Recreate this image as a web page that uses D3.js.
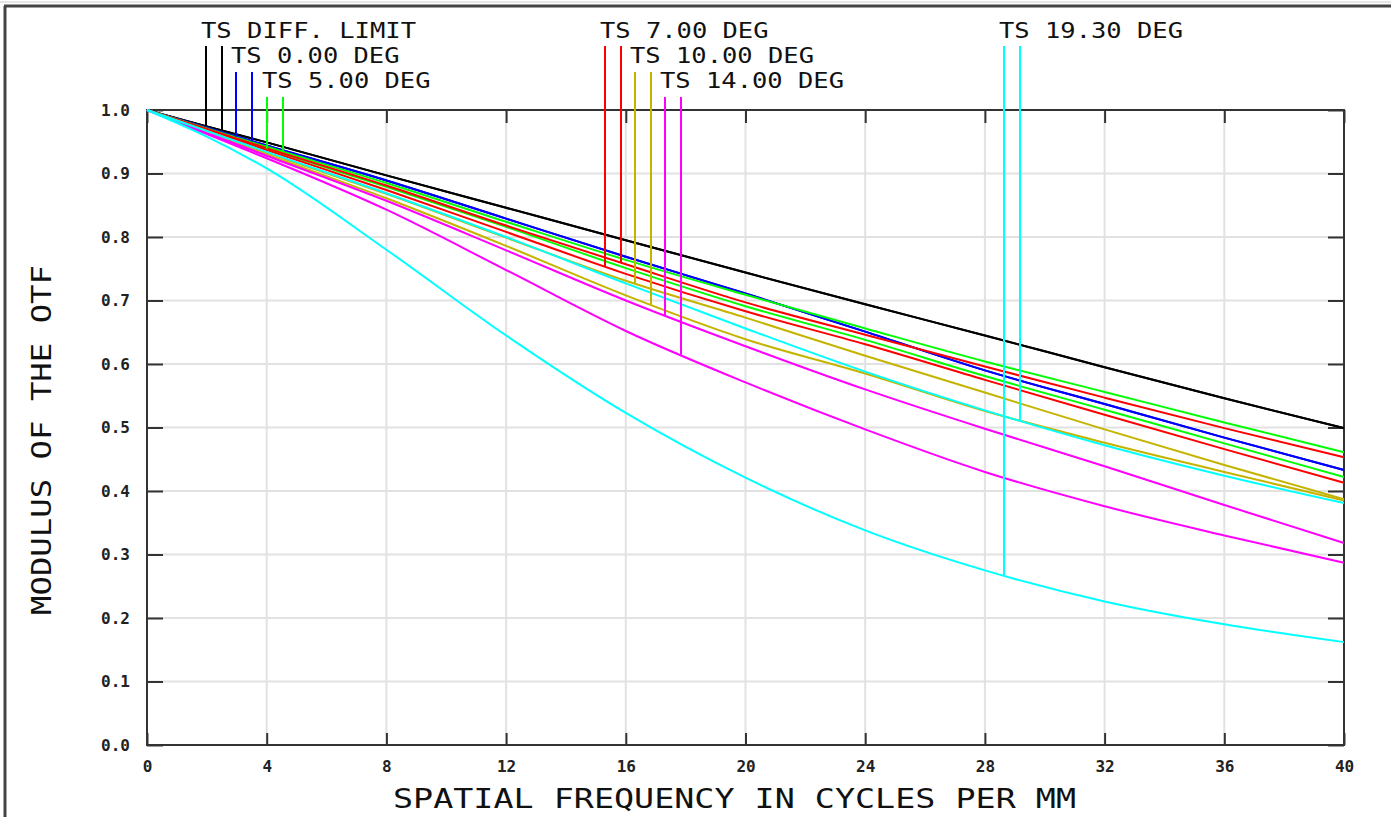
<!DOCTYPE html>
<html>
<head>
<meta charset="utf-8">
<script src="https://cdn.jsdelivr.net/npm/d3@7"></script>
<style>
  body { margin: 0; background: #fff; }
  text { font-family: "DejaVu Sans Mono", monospace; }
</style>
</head>
<body>
<div id="chart"></div>
<script>
// MTF data (modulus vs spatial frequency, cycles/mm)
const freqs = [0, 2, 4, 8, 12, 16, 20, 24, 28, 32, 36, 40];

const diffLimit = [1.000, 0.974, 0.949, 0.897, 0.846, 0.795, 0.744, 0.694, 0.645, 0.595, 0.546, 0.499];
const ts0 = [1.000, 0.972, 0.944, 0.889, 0.829, 0.769, 0.711, 0.651, 0.590, 0.537, 0.484, 0.433];
const t5 = [1.000, 0.970, 0.939, 0.879, 0.816, 0.751, 0.691, 0.638, 0.581, 0.528, 0.475, 0.422];
const s5 = [1.000, 0.971, 0.942, 0.885, 0.824, 0.764, 0.709, 0.656, 0.604, 0.556, 0.508, 0.461];
const t7 = [1.000, 0.969, 0.937, 0.874, 0.808, 0.742, 0.683, 0.631, 0.575, 0.520, 0.466, 0.413];
const s7 = [1.000, 0.970, 0.940, 0.881, 0.818, 0.757, 0.697, 0.646, 0.596, 0.547, 0.499, 0.453];
const t10 = [1.000, 0.967, 0.933, 0.868, 0.799, 0.731, 0.673, 0.613, 0.555, 0.497, 0.441, 0.387];
const s10 = [1.000, 0.965, 0.930, 0.861, 0.786, 0.708, 0.639, 0.585, 0.526, 0.476, 0.430, 0.385];
const t14 = [1.000, 0.964, 0.928, 0.857, 0.779, 0.700, 0.628, 0.560, 0.498, 0.439, 0.378, 0.318];
const s14 = [1.000, 0.962, 0.924, 0.843, 0.748, 0.652, 0.571, 0.497, 0.430, 0.376, 0.330, 0.287];
const t19 = [1.000, 0.958, 0.908, 0.780, 0.645, 0.523, 0.421, 0.338, 0.275, 0.226, 0.190, 0.162];
const s19 = [1.000, 0.967, 0.934, 0.869, 0.800, 0.727, 0.656, 0.588, 0.527, 0.472, 0.424, 0.381];

const fieldLabels = ["TS DIFF. LIMIT", "TS 0.00 DEG", "TS 5.00 DEG", "TS 7.00 DEG",
                     "TS 10.00 DEG", "TS 14.00 DEG", "TS 19.30 DEG"];
const xTicks = [0, 4, 8, 12, 16, 20, 24, 28, 32, 36, 40];
const yTicks = [0, 0.1, 0.2, 0.3, 0.4, 0.5, 0.6, 0.7, 0.8, 0.9, 1.0];

// series table: tangential + sagittal per field
const series = [
  {label: fieldLabels[0], color: "#000000", T: diffLimit, S: diffLimit},
  {label: fieldLabels[1], color: "#0000ff", T: ts0, S: ts0},
  {label: fieldLabels[2], color: "#00ff00", T: t5, S: s5},
  {label: fieldLabels[3], color: "#ff0000", T: t7, S: s7},
  {label: fieldLabels[4], color: "#c4b400", T: t10, S: s10},
  {label: fieldLabels[5], color: "#ff00ff", T: t14, S: s14},
  {label: fieldLabels[6], color: "#00ffff", T: t19, S: s19}
];

// label placement (pixels): left edge of text and row
const labelPos = [
  {x: 201, row: 0}, {x: 231, row: 1}, {x: 262, row: 2},
  {x: 600, row: 0}, {x: 630, row: 1}, {x: 660, row: 2},
  {x: 999, row: 0}
];
const rowBase = [38, 63, 88];
const rowLeaderTop = [46, 72, 97];

const width = 1397;
const height = 817;
const plot = {left: 147, right: 1344, top: 110, bottom: 745};
const axisColor = "#333";
const gridColor = "#e2e2e2";

const svg = d3.select("#chart")
  .append("svg")
  .attr("width", width)
  .attr("height", height);

// outer frame (top and left edges of the window)
svg.append("line").attr("x1", 0).attr("x2", 1391).attr("y1", 2).attr("y2", 2)
  .attr("stroke", "#e6e6e6").attr("stroke-width", 2);
svg.append("line").attr("x1", 4).attr("x2", 1391).attr("y1", 6).attr("y2", 6)
  .attr("stroke", "#444").attr("stroke-width", 3);
svg.append("line").attr("x1", 5).attr("x2", 5).attr("y1", 6).attr("y2", height)
  .attr("stroke", "#444").attr("stroke-width", 3);

const x = d3.scaleLinear().domain([0, 40]).range([plot.left, plot.right]);
const y = d3.scaleLinear().domain([0, 1]).range([plot.bottom, plot.top]);

// grid
svg.append("g")
  .selectAll("line")
  .data(xTicks.slice(1, -1))
  .join("line")
  .attr("x1", d => x(d)).attr("x2", d => x(d))
  .attr("y1", plot.top).attr("y2", plot.bottom)
  .attr("stroke", gridColor).attr("stroke-width", 2);

svg.append("g")
  .selectAll("line")
  .data(yTicks.slice(1, -1))
  .join("line")
  .attr("x1", plot.left).attr("x2", plot.right)
  .attr("y1", d => y(d)).attr("y2", d => y(d))
  .attr("stroke", gridColor).attr("stroke-width", 2);

// axes with inward ticks
const styleAxis = g => {
  g.select(".domain").remove();
  g.selectAll(".tick line").attr("stroke", axisColor).attr("stroke-width", 2);
  g.selectAll(".tick text")
    .attr("fill", "#222")
    .attr("font-size", "16px")
    .attr("font-weight", "bold")
    .attr("font-family", "DejaVu Sans Mono, monospace");
};

svg.append("g")
  .attr("transform", `translate(${plot.left},0)`)
  .call(d3.axisLeft(y).tickValues(yTicks).tickSize(-16).tickPadding(17).tickFormat(d3.format(".1f")))
  .call(styleAxis);

svg.append("g")
  .attr("transform", `translate(${plot.right},0)`)
  .call(d3.axisRight(y).tickValues(yTicks).tickSize(-16).tickFormat(""))
  .call(styleAxis);

svg.append("g")
  .attr("transform", `translate(0,${plot.bottom})`)
  .call(d3.axisBottom(x).tickValues(xTicks).tickSize(-12).tickPadding(16).tickFormat(d3.format("d")))
  .call(styleAxis);

svg.append("g")
  .attr("transform", `translate(0,${plot.top})`)
  .call(d3.axisTop(x).tickValues(xTicks).tickSize(-13).tickFormat(""))
  .call(styleAxis);

// plot frame
svg.append("rect")
  .attr("x", plot.left).attr("y", plot.top)
  .attr("width", plot.right - plot.left).attr("height", plot.bottom - plot.top)
  .attr("fill", "none").attr("stroke", axisColor).attr("stroke-width", 2);

// curves
const line = d3.line()
  .x((d, i) => x(freqs[i]))
  .y(d => y(d))
  .curve(d3.curveMonotoneX);

const curves = svg.append("g");
series.forEach(s => {
  [s.T, s.S].forEach(vals => {
    curves.append("path")
      .datum(vals)
      .attr("d", line)
      .attr("fill", "none")
      .attr("stroke", s.color)
      .attr("stroke-width", 2);
  });
});

// value of a curve at frequency f (linear between read points)
const valueAt = (vals, f) => {
  const i = Math.min(d3.bisectRight(freqs, f), freqs.length - 1);
  const t = (f - freqs[i - 1]) / (freqs[i] - freqs[i - 1]);
  return vals[i - 1] + t * (vals[i] - vals[i - 1]);
};

// labels with T/S leader lines (rows are 25px apart, so the font stays small enough not to collide)
const labels = svg.append("g");
series.forEach((s, k) => {
  const p = labelPos[k];
  labels.append("text")
    .attr("x", p.x)
    .attr("y", rowBase[p.row])
    .attr("font-size", "21.4px")
    .attr("fill", "#111")
    .attr("textLength", s.label.length * 15.5 - 2)
    .attr("lengthAdjust", "spacingAndGlyphs")
    .text(s.label);

  [[s.T, p.x + 5], [s.S, p.x + 21]].forEach(([vals, lx]) => {
    labels.append("line")
      .attr("x1", lx).attr("x2", lx)
      .attr("y1", rowLeaderTop[p.row])
      .attr("y2", y(valueAt(vals, x.invert(lx))))
      .attr("stroke", s.color)
      .attr("stroke-width", 2);
  });
});

// axis titles
svg.append("text")
  .attr("x", 393)
  .attr("y", 808)
  .attr("font-size", "27px")
  .attr("fill", "#111")
  .attr("textLength", 683)
  .attr("lengthAdjust", "spacingAndGlyphs")
  .text("SPATIAL FREQUENCY IN CYCLES PER MM");

svg.append("text")
  .attr("transform", "translate(51,615) rotate(-90)")
  .attr("font-size", "27px")
  .attr("fill", "#111")
  .attr("textLength", 350)
  .attr("lengthAdjust", "spacingAndGlyphs")
  .text("MODULUS OF THE OTF");
</script>
</body>
</html>
